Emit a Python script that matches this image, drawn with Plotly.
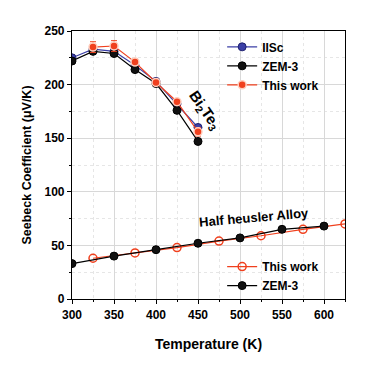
import plotly.graph_objects as go

# Bi2Te3 data
bt_T_iisc = [300, 325, 350, 375, 400, 425, 450]
bt_S_iisc = [225, 233, 231, 218, 203, 182, 160]
bt_T_zem = [300, 325, 350, 375, 400, 425, 450]
bt_S_zem = [222, 231, 229, 214, 201, 176, 147]
bt_T_this = [325, 350, 375, 400, 425, 450]
bt_S_this = [235, 236, 221, 202, 184, 156]
bt_err_this = [5, 5, 3, 3, 3, 4]

# Half heusler data
hh_T_this = [325, 375, 425, 475, 525, 575, 625]
hh_S_this = [38, 43, 48, 54, 59, 65, 70]
hh_T_zem = [300, 350, 400, 450, 500, 550, 600]
hh_S_zem = [33, 40, 46, 52, 57, 65, 68]

BLUE = "#3b3fa6"
RED = "#f0401e"
FONT = "Liberation Sans"

fig = go.Figure()

fig.add_trace(go.Scatter(x=bt_T_iisc, y=bt_S_iisc, mode="lines+markers", name="IISc",
                         line=dict(color=BLUE, width=1.2),
                         marker=dict(symbol="circle", size=8, color=BLUE, line=dict(color="#1e2070", width=1)),
                         legend="legend"))
fig.add_trace(go.Scatter(x=bt_T_zem, y=bt_S_zem, mode="lines+markers", name="ZEM-3",
                         line=dict(color="black", width=1.2),
                         marker=dict(symbol="circle", size=8, color="#111111", line=dict(color="black", width=1)),
                         legend="legend"))
fig.add_trace(go.Scatter(x=bt_T_this, y=bt_S_this, mode="lines+markers", name="This work",
                         line=dict(color=RED, width=1.2),
                         error_y=dict(type="data", array=bt_err_this, color=RED, thickness=1, width=3),
                         marker=dict(symbol="circle", size=8, color=RED, line=dict(color="#ffd0c0", width=1.5)),
                         legend="legend"))

fig.add_trace(go.Scatter(x=hh_T_this, y=hh_S_this, mode="lines+markers", name="This work",
                         line=dict(color=RED, width=1.2),
                         marker=dict(symbol="circle-open", size=8, color=RED, line=dict(color=RED, width=1.5)),
                         legend="legend2"))
fig.add_trace(go.Scatter(x=hh_T_zem, y=hh_S_zem, mode="lines+markers", name="ZEM-3",
                         line=dict(color="black", width=1.2),
                         marker=dict(symbol="circle", size=8, color="#111111", line=dict(color="black", width=1)),
                         legend="legend2"))

fig.add_annotation(x=458, y=176, text="Bi<sub>2</sub>Te<sub>3</sub>", showarrow=False, textangle=55,
                   font=dict(family=FONT, size=15, color="black", weight="bold"))
fig.add_annotation(x=517, y=76, text="Half heusler Alloy", showarrow=False, textangle=-5,
                   font=dict(family=FONT, size=13, color="black", weight="bold"))

axis_common = dict(
    showline=True, linecolor="black", linewidth=1.2, mirror=True,
    showgrid=True, gridcolor="#d8d8d8", gridwidth=1,
    zeroline=False, automargin=False,
    tickfont=dict(family=FONT, size=12, color="black", weight="bold"),
    ticks="outside", ticklen=4, tickcolor="black",
)

fig.update_xaxes(range=[300, 625], dtick=50, tick0=300,
                 title=dict(text="Temperature (K)", font=dict(family=FONT, size=14, color="black", weight="bold"), standoff=18),
                 minor=dict(dtick=25, showgrid=True, gridcolor="#e6e6e6", griddash="dot", ticks="outside", ticklen=2),
                 **axis_common)
fig.update_yaxes(range=[0, 250], dtick=50,
                 title=dict(text="Seebeck Coefficient (μV/K)", font=dict(family=FONT, size=12.5, color="black", weight="bold"), standoff=10),
                 minor=dict(dtick=25, showgrid=True, gridcolor="#e6e6e6", griddash="dot", ticks="outside", ticklen=2),
                 **axis_common)

legend_common = dict(bgcolor="rgba(0,0,0,0)", borderwidth=0, tracegroupgap=0,
                     font=dict(family=FONT, size=12, color="black", weight="bold"),
                     itemwidth=30, xanchor="left", yanchor="top")

fig.update_layout(
    width=374, height=374,
    margin=dict(l=64, r=37, t=23, b=83),
    paper_bgcolor="white", plot_bgcolor="white",
    legend=dict(x=0.55, y=0.995, **legend_common),
    legend2=dict(x=0.55, y=0.175, **legend_common),
    showlegend=True,
)

fig.write_html("out.html")
